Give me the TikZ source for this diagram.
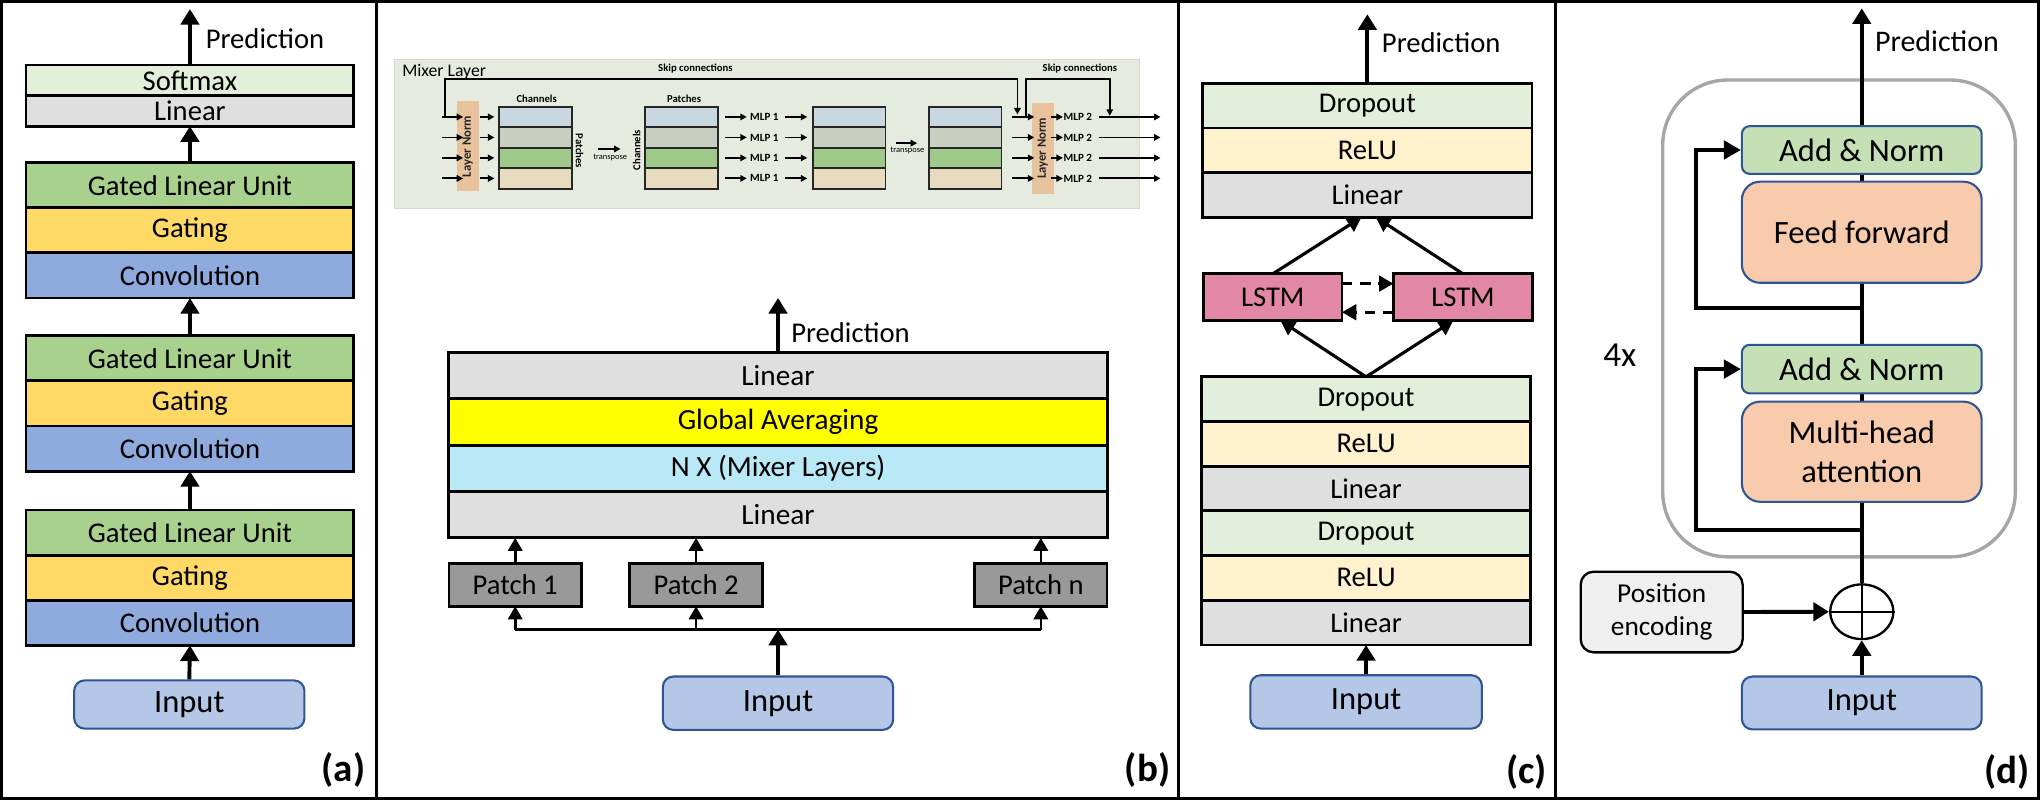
\documentclass[tikz,border=0pt]{standalone}
\usepackage{fontspec}
\setmainfont{Carlito}
\usetikzlibrary{arrows.meta,backgrounds,shapes.geometric}

\definecolor{cSoft}{HTML}{E2EFDA}
\definecolor{cLin}{HTML}{DFDFDF}
\definecolor{cGLU}{HTML}{A9D18E}
\definecolor{cGate}{HTML}{FFD966}
\definecolor{cConv}{HTML}{8FAADC}
\definecolor{cIn}{HTML}{B4C7E7}
\definecolor{cInB}{HTML}{2F5597}
\definecolor{cDrop}{HTML}{E2EFDA}
\definecolor{cRelu}{HTML}{FFF2CC}
\definecolor{cLSTM}{HTML}{E287A5}
\definecolor{cAN}{HTML}{C5E0B4}
\definecolor{cFF}{HTML}{F8CBAD}
\definecolor{cPE}{HTML}{EFEFEF}
\definecolor{cPatch}{HTML}{999999}
\definecolor{cGA}{HTML}{FFFF00}
\definecolor{cNX}{HTML}{B9E9F7}
\definecolor{cCont}{HTML}{A6A6A6}
\definecolor{cInset}{HTML}{E5ECDF}
\definecolor{cLN}{HTML}{E8C29C}
\definecolor{mA}{HTML}{C9D8E0}
\definecolor{mB}{HTML}{C8CEC0}
\definecolor{mC}{HTML}{9FC98A}
\definecolor{mD}{HTML}{E8DCC0}

\newcommand\myfs[1]{\fontsize{#1}{#1}\selectfont}

\begin{document}
\begin{tikzpicture}[x=1pt,y=-1pt,
  lyr/.style={draw=black,line width=2.2pt,inner sep=0pt,outer sep=0pt,text=black},
  inbox/.style={draw=cInB,fill=cIn,line width=1.6pt,rounded corners=8pt,inner sep=0pt,font=\myfs{25}},
  bx/.style={draw=cInB,line width=1.6pt,inner sep=0pt,rounded corners=6pt,font=\myfs{25}},
  arr/.style={line width=3pt,-{Triangle[width=14pt,length=12pt]}},
  arrS/.style={line width=2pt,-{Triangle[width=11pt,length=10pt]}},
  arrC/.style={line width=2.4pt,-{Triangle[width=12pt,length=11pt]}},
  dsh/.style={line width=2.2pt,dash pattern=on 8pt off 6pt,-{Triangle[width=12pt,length=11pt]}},
  ia/.style={line width=1.4pt,-{Triangle[width=5pt,length=5pt]}},
  predlbl/.style={anchor=west,inner sep=0pt,font=\myfs{22}},
  tag/.style={font=\bfseries\myfs{30},inner sep=0pt},
  mlp/.style={font=\bfseries\myfs{8.5},inner sep=0pt},
  small/.style={font=\bfseries\myfs{8.2},inner sep=0pt},
  lnbox/.style={fill=cLN,rotate=90,minimum height=17,inner sep=0pt,font=\bfseries\myfs{9.8},text=black!85}
]
\useasboundingbox (0,0) rectangle (1568,615);

% ---------------- frame ----------------
\draw[line width=2.4pt] (1.2,1.2) rectangle (1566.8,613.8);
\draw[line width=2.4pt] (289.5,1.2) -- (289.5,613.8);
\draw[line width=2.4pt] (906,1.2) -- (906,613.8);
\draw[line width=2.4pt] (1195.5,1.2) -- (1195.5,613.8);

% ================= panel (a) =================
\begin{scope}[every node/.append style={font=\myfs{22}}]
\node[lyr,fill=cSoft,minimum width=252,minimum height=23.5] (asm) at (146,61.75) {Softmax};
\node[lyr,fill=cLin,minimum width=252,minimum height=23.5] (alin) at (146,85.25) {Linear};
\foreach \g/\t in {1/125,2/258,3/392}{
  \node[lyr,fill=cGLU,minimum width=252,minimum height=34.7] (aglu\g) at (146,\t+17.35) {Gated Linear Unit};
  \node[lyr,fill=cGate,minimum width=252,minimum height=34.7] (agate\g) at (146,\t+52.05) {Gating};
  \node[lyr,fill=cConv,minimum width=252,minimum height=34.7] (aconv\g) at (146,\t+86.75) {Convolution};
}
\end{scope}
\node[inbox,minimum width=177,minimum height=37] (ain) at (145.5,541.5) {Input};
\coordinate (apred) at (146,7);
\draw[arr] (ain.north) -- (aconv3.south);
\draw[arr] (aglu3.north) -- (aconv2.south);
\draw[arr] (aglu2.north) -- (aconv1.south);
\draw[arr] (aglu1.north) -- (alin.south);
\draw[arr] (asm.north) -- (apred);
\node[predlbl] (apl) at (158,30) {Prediction};
\node[tag] (atag) at (264,592) {(a)};

% ================= panel (b) inset =================
\node[fill=cInset,draw=cInset!92!black,line width=0.6pt,minimum width=573,minimum height=114,inner sep=0pt] (inset) at (589.5,103) {};
\node[anchor=west,inner sep=0pt,font=\myfs{13.6}] (mixlbl) at (309,55) {Mixer Layer};
\node[small] (skl1) at (534.5,53) {Skip connections};
\node[small] (skl2) at (830,53) {Skip connections};
\node[lnbox,minimum width=69] (ln1) at (359.5,112.5) {Layer Norm};
\node[lnbox,minimum width=70] (ln2) at (801.5,114) {Layer Norm};
\foreach \b/\cx in {1/411.75,2/524,3/652.6,4/741.75}{
  \foreach \r/\cy/\col in {1/89.875/mA,2/105.625/mB,3/121.375/mC,4/137.125/mD}{
    \node[draw=black!85,line width=1.4pt,fill=\col,minimum width=56,minimum height=15.75,inner sep=0pt] (m\b-\r) at (\cx,\cy) {};
  }
}
\node[small] (chl1) at (412.5,75.6) {Channels};
\node[small,rotate=-90] (pal1) at (445.5,116) {Patches};
\node[small,rotate=90] (chl2) at (489.4,115.3) {Channels};
\node[small] (pal2) at (525.8,76.3) {Patches};
\coordinate (tr1a) at (460,114.5); \coordinate (tr1b) at (477,114.5);
\draw[ia] (tr1a) -- (tr1b);
\node[inner sep=0pt,font=\myfs{6.5}] (trl1) at (469,121) {transpose};
\coordinate (tr2a) at (689,110); \coordinate (tr2b) at (705,110);
\draw[ia] (tr2a) -- (tr2b);
\node[inner sep=0pt,font=\myfs{6.5}] (trl2) at (697.5,116) {transpose};
\foreach \r/\y in {1/89.875,2/105.625,3/121.375,4/137.125}{
  \draw[ia] (340,\y) -- (356,\y);
  \draw[ia] (369,\y) -- (380,\y);
  \draw[ia] (557,\y) -- (574,\y);
  \node[mlp] (mlpa\r) at (587.5,\y) {MLP 1};
  \draw[ia] (603,\y) -- (620.5,\y);
  \draw[ia] (778,\y) -- (795,\y);
  \draw[ia] (808,\y) -- (817,\y);
  \node[mlp] (mlpb\r) at (828.5,\y) {MLP 2};
  \draw[ia] (845,\y) -- (892,\y);
}
\draw[ia] (342,89.875) -- (342,61) -- (782,61) -- (782,88);
\draw[ia] (788.4,89.875) -- (788.4,61) -- (853,61) -- (853,89);

% ================= panel (b) main =================
\begin{scope}[every node/.append style={font=\myfs{22.5}}]
\node[lyr,fill=cLin,minimum width=506,minimum height=35.6] (blin2) at (598,288.8) {Linear};
\node[lyr,fill=cGA,minimum width=506,minimum height=35.6] (bga) at (598,324.4) {Global Averaging};
\node[lyr,fill=cNX,minimum width=506,minimum height=35.6] (bnx) at (598,360) {N X (Mixer Layers)};
\node[lyr,fill=cLin,minimum width=506,minimum height=35.6] (blin1) at (598,395.6) {Linear};
\end{scope}
\begin{scope}[every node/.append style={lyr,fill=cPatch,line width=2pt,minimum width=102,minimum height=33,font=\myfs{22}}]
\node (p1) at (396,449.5) {Patch 1};
\node (p2) at (535,449.5) {Patch 2};
\node (pn) at (800,449.5) {Patch n};
\end{scope}
\node[inbox,minimum width=177,minimum height=41] (bin) at (598,540.5) {Input};
\coordinate (hl) at (598,484);
\coordinate (bpred) at (598,229);
\draw[line width=2pt] (hl -| p1) -- (hl -| pn);
\draw[arr] (bin.north) -- (hl);
\foreach \p in {p1,p2,pn}{
  \draw[arrS] (hl -| \p) -- (\p.south);
  \draw[arrS] (\p.north) -- (\p.north |- blin1.south);
}
\draw[arr] (blin2.north) -- (bpred);
\node[predlbl] (bpl) at (608,256) {Prediction};
\node[tag] (btag) at (882,592) {(b)};

% ================= panel (c) =================
\begin{scope}[every node/.append style={lyr,minimum width=253,minimum height=34.33,font=\myfs{22}}]
\node[fill=cDrop] (cd2) at (1051,81.17) {Dropout};
\node[fill=cRelu] (cr2) at (1051,115.5) {ReLU};
\node[fill=cLin] (cl2) at (1051,149.83) {Linear};
\node[fill=cDrop] (cd1) at (1050,306.8) {Dropout};
\node[fill=cRelu] (cr1) at (1050,341.1) {ReLU};
\node[fill=cLin] (cl1) at (1050,375.5) {Linear};
\node[fill=cDrop] (cd0) at (1050,409.9) {Dropout};
\node[fill=cRelu] (cr0) at (1050,444.2) {ReLU};
\node[fill=cLin] (cl0) at (1050,478.6) {Linear};
\end{scope}
\node[lyr,fill=cLSTM,minimum width=106.5,minimum height=36,font=\myfs{22}] (lstmL) at (978.25,228.5) {LSTM};
\node[lyr,fill=cLSTM,minimum width=107,minimum height=36,font=\myfs{22}] (lstmR) at (1124.5,228.5) {LSTM};
\node[inbox,minimum width=178,minimum height=41] (cin) at (1050,539.5) {Input};
\coordinate (cpred) at (1051,11);
\draw[arr] (cin.north) -- (cl0.south);
\draw[arr] (cd2.north) -- (cpred);
\draw[arrC] (lstmL.north) -- ([xshift=-4.5pt]cl2.south);
\draw[arrC] (lstmR.north) -- ([xshift=6.5pt]cl2.south);
\draw[arrC] (cd1.north) -- ([xshift=6pt]lstmL.south);
\draw[arrC] (cd1.north) -- ([xshift=-7.5pt]lstmR.south);
\draw[dsh] ([yshift=10.5pt]lstmL.east) -- ([yshift=10.5pt]lstmR.west);
\draw[dsh] ([yshift=-11.5pt]lstmR.west) -- ([yshift=-11.5pt]lstmL.east);
\node[predlbl] (cpl) at (1062,33) {Prediction};
\node[tag] (ctag) at (1173.5,593) {(c)};

% ================= panel (d) =================
\node[bx,fill=cAN,minimum width=184.3,minimum height=36.7] (an2) at (1431,115.3) {Add \& Norm};
\node[bx,fill=cFF,rounded corners=14pt,minimum width=184.3,minimum height=77.7] (ff) at (1431,178.5) {Feed forward};
\node[bx,fill=cAN,minimum width=184.3,minimum height=37.3] (an1) at (1431,283.7) {Add \& Norm};
\node[bx,fill=cFF,rounded corners=14pt,minimum width=184.3,minimum height=77,align=center,font=\fontsize{25}{29.5}\selectfont] (mha) at (1431,347.2) {Multi-head\\attention};
\node[ellipse,draw=black,line width=1.8pt,fill=white,minimum width=48.6,minimum height=42,inner sep=0pt] (plus) at (1431,470.2) {};
\node[draw=black,fill=cPE,line width=1.8pt,rounded corners=10pt,minimum width=124.5,minimum height=62,inner sep=0pt,align=center,font=\fontsize{21}{25.6}\selectfont] (pe) at (1277.2,470.4) {Position\\encoding};
\node[inbox,minimum width=184.3,minimum height=40.6] (din) at (1431,540.3) {Input};
\coordinate (dpred) at (1431,6.4);
\coordinate (sk1) at (1431,236.9);
\coordinate (sk2) at (1431,407.4);
\begin{scope}[on background layer]
\node[draw=cCont,line width=2.6pt,rounded corners=50pt,minimum width=271,minimum height=366.5,inner sep=0pt] (cont) at (1413.5,244.75) {};
\draw[line width=3pt,-{Triangle[width=14pt,length=12pt]}] (plus.north) -- (dpred);
\end{scope}
\draw[line width=1.8pt] (plus.north) -- (plus.south) (plus.west) -- (plus.east);
\draw[line width=3pt,-{Triangle[width=14pt,length=13pt]}] (sk1) -- (1303.7,236.9) |- (an2.west);
\draw[line width=3pt,-{Triangle[width=14pt,length=13pt]}] (sk2) -- (1303.7,407.4) |- (an1.west);
\draw[arr] (pe.east) -- (plus.west);
\draw[arr] (din.north) -- (plus.south);
\node[predlbl,font=\myfs{23}] (dpl) at (1441,32) {Prediction};
\node[inner sep=0pt,font=\myfs{27}] (four) at (1245,273) {4x};
\node[tag] (dtag) at (1542.5,593) {(d)};
\end{tikzpicture}
\end{document}
